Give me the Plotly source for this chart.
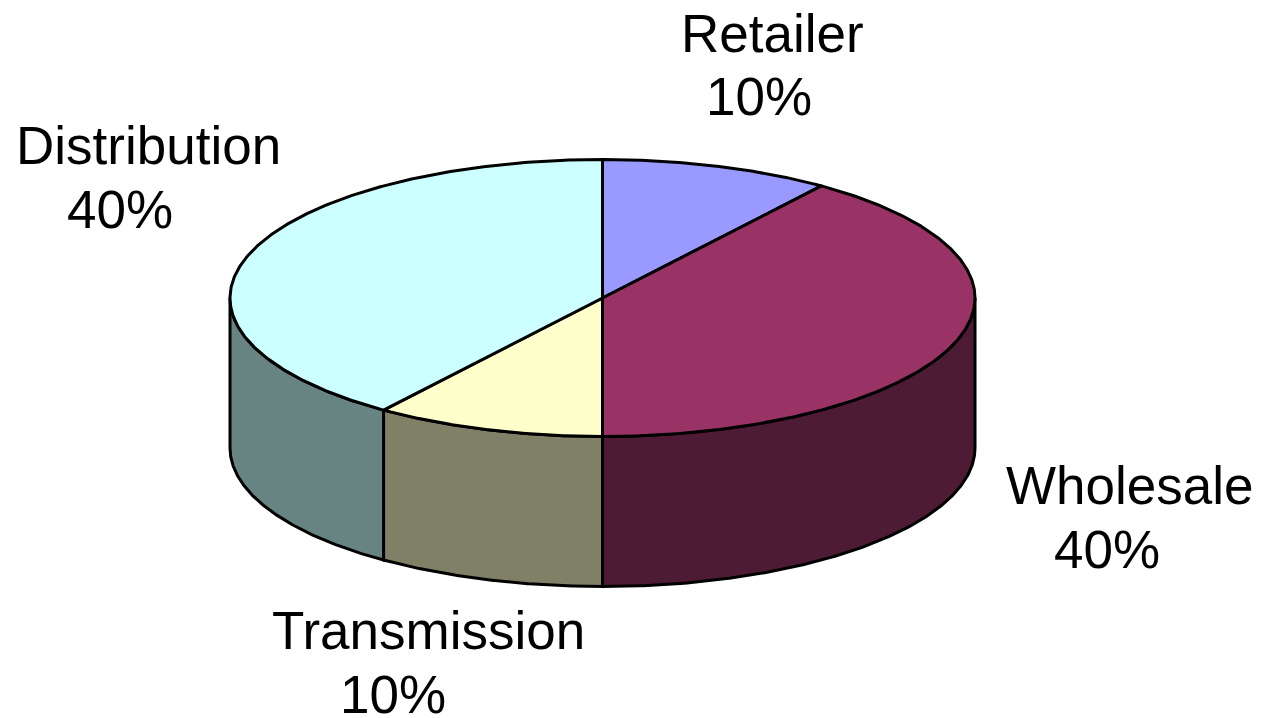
import numpy as np
import plotly.graph_objects as go

# Cost shares of the electricity bill, clockwise from 12 o'clock
categories = ["Retailer", "Wholesale", "Transmission", "Distribution"]
shares = [10, 40, 10, 40]

top_colors = ["#9999FF", "#993366", "#FFFFCC", "#CCFFFF"]
side_colors = ["#4C4C80", "#4E1B35", "#808066", "#678382"]

# Label placement (line centres in pixel space)
label_pos = {
    "Retailer": ((772, 33), (759, 96)),
    "Wholesale": ((1129, 485), (1107, 549)),
    "Transmission": ((428, 630), (393, 694)),
    "Distribution": ((148, 145), (120, 209)),
}

W, H = 1261, 718
cx, cy = 602.5, 298.0      # centre of the top ellipse
rx, ry = 372.5, 138.5      # ellipse radii
depth = 150.0              # thickness of the disc

def ell(theta_deg, dy=0.0):
    t = np.radians(theta_deg)
    return cx + rx * np.sin(t), cy - ry * np.cos(t) + dy

fig = go.Figure()

total = float(sum(shares))
bounds = np.concatenate([[0.0], np.cumsum(shares) / total * 360.0])

line_style = dict(color="black", width=3)

# Side walls: only the front half of the disc (90..270 degrees) is visible
for i, cat in enumerate(categories):
    a0, a1 = max(bounds[i], 90.0), min(bounds[i + 1], 270.0)
    if a1 <= a0:
        continue
    th = np.linspace(a0, a1, 200)
    xt, yt = ell(th)
    xb, yb = ell(th[::-1], depth)
    xs = np.concatenate([xt, xb, xt[:1]])
    ys = np.concatenate([yt, yb, yt[:1]])
    fig.add_trace(go.Scatter(x=xs, y=ys, mode="lines", fill="toself",
                             fillcolor=side_colors[i], line=line_style,
                             hoverinfo="skip", showlegend=False))

# Top faces
for i, cat in enumerate(categories):
    th = np.linspace(bounds[i], bounds[i + 1], 300)
    xa, ya = ell(th)
    xs = np.concatenate([[cx], xa, [cx]])
    ys = np.concatenate([[cy], ya, [cy]])
    fig.add_trace(go.Scatter(x=xs, y=ys, mode="lines", fill="toself",
                             fillcolor=top_colors[i], line=line_style,
                             hoverinfo="text", text=f"{cat}: {shares[i]}%",
                             showlegend=False))

# Category and percentage labels
font = dict(family="Liberation Sans, Arial, sans-serif", size=53, color="black")
for i, cat in enumerate(categories):
    pct = f"{round(shares[i] / total * 100)}%"
    (x1, y1), (x2, y2) = label_pos[cat]
    for txt, x, y in ((cat, x1, y1), (pct, x2, y2)):
        fig.add_annotation(x=x, y=y, xref="x", yref="y", text=txt,
                           showarrow=False, font=font,
                           xanchor="center", yanchor="middle")

fig.update_layout(
    width=W, height=H,
    margin=dict(l=0, r=0, t=0, b=0),
    paper_bgcolor="white", plot_bgcolor="white",
    xaxis=dict(range=[0, W], visible=False, fixedrange=True),
    yaxis=dict(range=[H, 0], visible=False, fixedrange=True),
)

fig.write_html("out.html")
